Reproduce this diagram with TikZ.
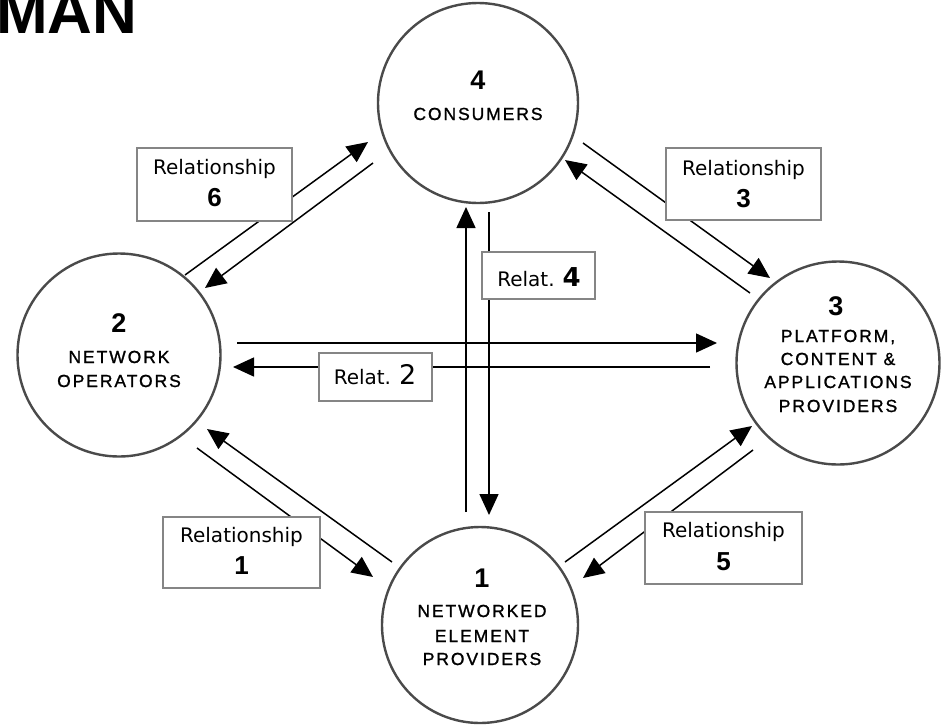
\documentclass[tikz,border=0pt]{standalone}
\usepackage{fontspec}
\setmainfont{Liberation Sans}
\newfontfamily\relfont{DejaVu Sans}
\newfontfamily\capsfont[LetterSpace=11,FakeBold=1.2]{Liberation Sans}
\usetikzlibrary{arrows.meta}
\definecolor{circgray}{HTML}{4A4A4A}
\definecolor{boxgray}{HTML}{858585}
\newcommand{\cnum}{\fontsize{27}{30}\selectfont\bfseries}
\newcommand{\clbl}{\capsfont\fontsize{17.5}{20}\selectfont}
\newcommand{\rlbl}{\relfont\fontsize{20}{22}\selectfont}
\newcommand{\rnum}{\fontsize{26}{28}\selectfont\bfseries}
\tikzset{
  circ/.style={circle, draw=circgray, line width=2.4pt, inner sep=0pt},
  relbox/.style={rectangle, draw=boxgray, fill=white, line width=1.7pt, inner sep=0pt},
  arr/.style={-{Triangle[length=21pt,width=19pt]}, line width=1.5pt, draw=black},
  txt/.style={inner sep=0pt, anchor=base},
}
\begin{document}
\begin{tikzpicture}[x=1pt,y=-1pt]
\useasboundingbox (0,0) rectangle (943,724);
% title fragment
\node[anchor=base west, inner sep=0pt, font=\fontsize{62}{62}\selectfont\bfseries] (title) at (-4,33) {MAN};

% circles
\node[circ, minimum size=200pt] (c4) at (478,103) {};
\node[circ, minimum size=203pt] (c2) at (119,355) {};
\node[circ, minimum size=203pt] (c3) at (838,363) {};
\node[circ, minimum size=196pt] (c1) at (480,625) {};

% circle labels
\node[txt, font=\cnum] (c4n) at (478,89) {4};
\node[txt, font=\clbl] (c4a) at (478,120) {CONSUMERS};

\node[txt, font=\cnum] (c2n) at (119,332) {2};
\node[txt, font=\clbl] (c2a) at (119,363) {NETWORK};
\node[txt, font=\clbl] (c2b) at (119,387) {OPERATORS};

\node[txt, font=\cnum] (c3n) at (836,315) {3};
\node[txt, font=\clbl] (c3a) at (838,342) {PLATFORM,};
\node[txt, font=\clbl] (c3b) at (838,365) {CONTENT \&};
\node[txt, font=\clbl] (c3c) at (838,388) {APPLICATIONS};
\node[txt, font=\clbl] (c3d) at (838,412) {PROVIDERS};

\node[txt, font=\cnum] (c1n) at (482,587) {1};
\node[txt, font=\clbl] (c1a) at (482,617) {NETWORKED};
\node[txt, font=\clbl] (c1b) at (482,642) {ELEMENT};
\node[txt, font=\clbl] (c1c) at (482,665) {PROVIDERS};

% relationship 6 (2 <-> 4)
\draw[arr] ([shift={(66,-80)}]c2.center) -- ([shift={(-110,39)}]c4.center);
\draw[arr] ([shift={(-105,60)}]c4.center) -- ([shift={(86,-67)}]c2.center);
% relationship 3 (4 <-> 3)
\draw[arr] ([shift={(105,40)}]c4.center) -- ([shift={(-68,-85)}]c3.center);
\draw[arr] ([shift={(-88,-70)}]c3.center) -- ([shift={(87,57)}]c4.center);
% relationship 1 (2 <-> 1)
\draw[arr] ([shift={(78,93)}]c2.center) -- ([shift={(-107,-48)}]c1.center);
\draw[arr] ([shift={(-88,-63)}]c1.center) -- ([shift={(88,74)}]c2.center);
% relationship 5 (1 <-> 3)
\draw[arr] ([shift={(85,-63)}]c1.center) -- ([shift={(-86,63)}]c3.center);
\draw[arr] ([shift={(-85,87)}]c3.center) -- ([shift={(103,-47)}]c1.center);
% relationship 4 (1 <-> 4)
\draw[arr] ([shift={(-14,-113)}]c1.center) -- ([shift={(-12,104)}]c4.center);
\draw[arr] ([shift={(11,109)}]c4.center) -- ([shift={(9,-110)}]c1.center);
% relationship 2 (2 <-> 3)
\draw[arr] ([shift={(118,-12)}]c2.center) -- ([shift={(-121,-20)}]c3.center);
\draw[arr] ([shift={(-128,4)}]c3.center) -- ([shift={(114,12)}]c2.center);

% boxes
\node[relbox, minimum width=155pt, minimum height=73pt] (b6) at (214.5,184.5) {};
\node[relbox, minimum width=155pt, minimum height=72pt] (b3) at (743.5,184) {};
\node[relbox, minimum width=157pt, minimum height=71pt] (b1) at (241.5,552.5) {};
\node[relbox, minimum width=157pt, minimum height=72pt] (b5) at (723.5,548) {};
\node[relbox, minimum width=113pt, minimum height=47pt] (b4) at (538.5,275.5) {};
\node[relbox, minimum width=113pt, minimum height=48pt] (b2) at (375.5,377) {};

% box texts
\node[txt, font=\rlbl] (b6a) at ([shift={(0,-10)}]b6.center) {Relationship};
\node[txt, font=\rnum] (b6b) at ([shift={(0,22)}]b6.center) {6};
\node[txt, font=\rlbl] (b3a) at ([shift={(0,-9)}]b3.center) {Relationship};
\node[txt, font=\rnum] (b3b) at ([shift={(0,23)}]b3.center) {3};
\node[txt, font=\rlbl] (b1a) at ([shift={(0,-10)}]b1.center) {Relationship};
\node[txt, font=\rnum] (b1b) at ([shift={(0,22)}]b1.center) {1};
\node[txt, font=\rlbl] (b5a) at ([shift={(0,-11)}]b5.center) {Relationship};
\node[txt, font=\rnum] (b5b) at ([shift={(0,22)}]b5.center) {5};
\node[txt, font=\rlbl] (b4a) at (539,286) {Relat.\hspace{8pt}{\rnum 4}};
\node[txt, font=\rlbl] (b2a) at (375,384) {Relat.\hspace{8pt}{\fontsize{27}{29}\selectfont 2}};
\end{tikzpicture}
\end{document}
